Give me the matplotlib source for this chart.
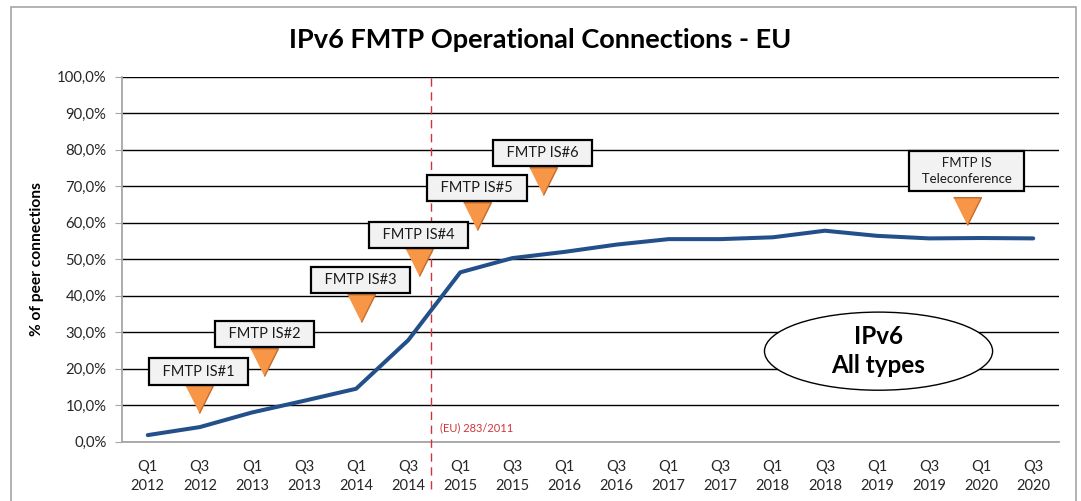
import matplotlib
matplotlib.use("Agg")
import matplotlib.pyplot as plt
from matplotlib.patches import Ellipse, Rectangle
from matplotlib.ticker import FuncFormatter

plt.rcParams['font.family'] = ['Lato', 'DejaVu Sans']

# data
quarters = ['Q1\n2012', 'Q3\n2012', 'Q1\n2013', 'Q3\n2013', 'Q1\n2014', 'Q3\n2014',
            'Q1\n2015', 'Q3\n2015', 'Q1\n2016', 'Q3\n2016', 'Q1\n2017', 'Q3\n2017',
            'Q1\n2018', 'Q3\n2018', 'Q1\n2019', 'Q3\n2019', 'Q1\n2020', 'Q3\n2020']
ipv6_pct = [1.8, 4.0, 8.0, 11.2, 14.5, 27.8, 46.4, 50.3, 52.0, 54.0, 55.5, 55.5,
            56.0, 57.8, 56.4, 55.7, 55.8, 55.7]

# events (label, x position in category units, tip value in %)
event_labels = ['FMTP IS#1', 'FMTP IS#2', 'FMTP IS#3', 'FMTP IS#4', 'FMTP IS#5',
                'FMTP IS#6', 'FMTP IS\nTeleconference']
event_x = [0.98, 2.24, 4.09, 5.2, 6.32, 7.58, 15.72]
event_y = [7.8, 18.1, 32.8, 45.3, 58.0, 67.6, 59.3]

regulation_x = 5.43
regulation_label = '(EU) 283/2011'

fig = plt.figure(figsize=(10.81, 5.01), dpi=100)
ax = fig.add_axes([0.1126, 0.1184, 0.8673, 0.7285])

# outer frame
fig.patches.append(Rectangle((0.0105, -0.02), 0.985, 1.006, transform=fig.transFigure,
                             fill=False, edgecolor='#a6a6a6', linewidth=1.2))

x = list(range(len(quarters)))
ax.plot(x, ipv6_pct, color='#23508a', linewidth=2.9, zorder=3, solid_capstyle='round')

ax.set_xlim(-0.5, len(quarters) - 0.5)
ax.set_ylim(0, 100)
ax.set_yticks(range(0, 101, 10))
ax.yaxis.set_major_formatter(FuncFormatter(lambda v, p: f"{v:.1f}%".replace('.', ',')))
ax.set_xticks(x)
ax.set_xticklabels(quarters, fontsize=10.5, color='#262626', linespacing=1.45)
ax.tick_params(axis='x', length=0, pad=13)
ax.tick_params(axis='y', length=5, color='#a6a6a6', labelsize=10.7, labelcolor='#262626', pad=6)
ax.yaxis.grid(True, color='black', linewidth=1.0)
ax.set_axisbelow(True)
for s in ['top', 'right']:
    ax.spines[s].set_visible(False)
for s in ['left', 'bottom']:
    ax.spines[s].set_color('#a6a6a6')
    ax.spines[s].set_linewidth(1.3)
ax.spines['bottom'].set_zorder(1)

ax.set_ylabel('% of peer connections', fontsize=11.2, fontweight='bold', labelpad=9)
fig.text(0.5, 0.92, 'IPv6 FMTP Operational Connections - EU', ha='center', va='center',
         fontsize=19.5, fontweight='bold')

# regulation marker
ax.plot([regulation_x, regulation_x], [-13, 100], color='#d0343a', linestyle=(0, (6, 4)),
        linewidth=1.0, clip_on=False, zorder=2)
ax.text(regulation_x + 0.19, 3.7, regulation_label, color='#d0343a', fontsize=8,
        va='center', ha='left')

# event callouts
tri = [(-0.5, 1.0), (0.5, 1.0), (0.0, 0.0)]
for lab, ex, ey in zip(event_labels, event_x, event_y):
    multi = '\n' in lab
    ax.plot(ex, ey, marker=tri, markersize=40, color='#f79646',
            markeredgecolor='#c46a2a', markeredgewidth=1.0, zorder=4, linestyle='none')
    if multi:
        txt = '\n'.join(f"  {part}  " for part in lab.split('\n'))
        off, fs, pad = 39, 9.5, 0.45
    else:
        txt = f"  {lab}  "
        off, fs, pad = 30, 10.5, 0.42
    ax.annotate(txt, (ex, ey), xytext=(0, off), textcoords='offset points',
                ha='center', va='center', fontsize=fs, color='#1a1a1a',
                linespacing=1.45,
                bbox=dict(boxstyle=f'square,pad={pad}',
                          facecolor='#f2f2f2', edgecolor='black', linewidth=1.6),
                zorder=5)

# IPv6 ellipse label
ax.add_patch(Ellipse((14.03, 24.8), 4.38, 21.4, facecolor='white', edgecolor='black',
                     linewidth=1.0, zorder=4))
ax.text(14.03, 24.8, 'IPv6\nAll types', ha='center', va='center', fontsize=17.5,
        fontweight='bold', linespacing=1.3, zorder=5)

fig.savefig('out.png', dpi=100)
